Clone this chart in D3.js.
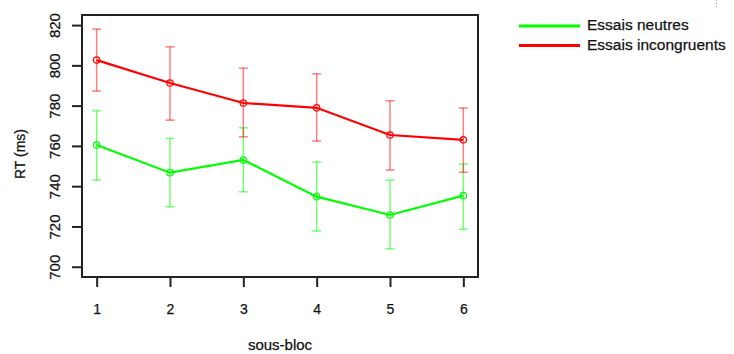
<!DOCTYPE html>
<html>
<head>
<meta charset="utf-8">
<script src="https://cdn.jsdelivr.net/npm/d3@7"></script>
<style>
  body { margin: 0; background: #fff; }
  svg { font-family: "Liberation Sans", Arial, sans-serif; }
  svg text { stroke: #111; stroke-width: 0.25px; }
</style>
</head>
<body>
<svg id="chart" width="734" height="354"></svg>
<script>
// sous-blocs 1..6
const blocks = [1, 2, 3, 4, 5, 6];

// Essais neutres
const neutralMean = [760.4, 746.7, 753.0, 734.8, 725.7, 735.3];
const neutralHigh = [777.4, 763.7, 769.0, 752.0, 743.0, 751.0];
const neutralLow  = [743.0, 729.8, 737.2, 717.7, 708.9, 718.6];

// Essais incongruents
const incongMean = [802.6, 791.2, 781.3, 778.9, 765.4, 763.0];
const incongHigh = [818.0, 809.2, 798.6, 795.8, 782.4, 778.8];
const incongLow  = [787.2, 772.8, 764.5, 762.4, 748.0, 746.9];

const yTicks = [700, 720, 740, 760, 780, 800, 820];
const legendLabels = ["Essais neutres", "Essais incongruents"];

const series = [
  { name: legendLabels[0], mean: neutralMean, hi: neutralHigh, lo: neutralLow, line: "#00ff00", bar: "rgba(0,255,0,0.55)" },
  { name: legendLabels[1], mean: incongMean, hi: incongHigh, lo: incongLow, line: "#ff0000", bar: "rgba(255,0,0,0.5)" }
];

const svg = d3.select("#chart");
const plot = { left: 82, top: 15, right: 478, bottom: 277 };

const x = d3.scaleLinear().domain([0.8, 6.2]).range([plot.left, plot.right]);
const y = d3.scaleLinear().domain([694.9, 825]).range([plot.bottom, plot.top]);

// y axis, labels rotated like R's default las=0
const yAxis = svg.append("g")
  .attr("transform", "translate(" + plot.left + ",0)")
  .call(d3.axisLeft(y).tickValues(yTicks).tickSize(10).tickSizeOuter(0));
yAxis.select(".domain").remove();
yAxis.selectAll("line").attr("stroke", "#222").attr("stroke-width", 2);
yAxis.selectAll("text")
  .attr("font-size", 15).attr("fill", "#111")
  .attr("text-anchor", "middle")
  .attr("transform", "rotate(-90)")
  .attr("x", 0).attr("y", -22).attr("dy", 0);

// x axis
const xAxis = svg.append("g")
  .attr("transform", "translate(0," + plot.bottom + ")")
  .call(d3.axisBottom(x).tickValues(blocks).tickFormat(d3.format("d")).tickSize(10).tickSizeOuter(0));
xAxis.select(".domain").remove();
xAxis.selectAll("line").attr("stroke", "#222").attr("stroke-width", 2);
xAxis.selectAll("text").attr("font-size", 14).attr("fill", "#111").attr("y", 37).attr("dy", 0);

// box
svg.append("rect")
  .attr("x", plot.left).attr("y", plot.top)
  .attr("width", plot.right - plot.left).attr("height", plot.bottom - plot.top)
  .attr("fill", "none").attr("stroke", "#222").attr("stroke-width", 2);

// axis titles
svg.append("text")
  .attr("transform", "translate(25," + ((plot.top + plot.bottom) / 2 + 8) + ") rotate(-90)")
  .attr("text-anchor", "middle").attr("font-size", 14).attr("fill", "#111")
  .text("RT (ms)");
svg.append("text")
  .attr("x", 280).attr("y", 350)
  .attr("text-anchor", "middle").attr("font-size", 15).attr("fill", "#111")
  .text("sous-bloc");

const line = d3.line().x((d) => x(d[0])).y((d) => y(d[1]));

series.forEach((s) => {
  const g = svg.append("g");
  // error bars
  blocks.forEach((b, i) => {
    g.append("line")
      .attr("x1", x(b)).attr("x2", x(b))
      .attr("y1", y(s.lo[i])).attr("y2", y(s.hi[i]))
      .attr("stroke", s.bar).attr("stroke-width", 1.5);
    [s.lo[i], s.hi[i]].forEach((v) => {
      g.append("line")
        .attr("x1", x(b) - 4.5).attr("x2", x(b) + 4.5)
        .attr("y1", y(v)).attr("y2", y(v))
        .attr("stroke", s.bar).attr("stroke-width", 1.5);
    });
  });
  g.append("path")
    .datum(blocks.map((b, i) => [b, s.mean[i]]))
    .attr("d", line)
    .attr("fill", "none").attr("stroke", s.line).attr("stroke-width", 2.2);
  g.selectAll("circle")
    .data(blocks.map((b, i) => [b, s.mean[i]]))
    .enter().append("circle")
    .attr("cx", (d) => x(d[0])).attr("cy", (d) => y(d[1])).attr("r", 3.2)
    .attr("fill", "none").attr("stroke", s.line).attr("stroke-width", 1.2);
});

// legend
const legend = svg.append("g").attr("transform", "translate(519,26)");
const items = legend.selectAll("g").data(series).enter().append("g")
  .attr("transform", (d, i) => "translate(0," + i * 19.5 + ")");
items.append("line")
  .attr("x1", 0).attr("x2", 61).attr("y1", 0).attr("y2", 0)
  .attr("stroke", (d) => d.line).attr("stroke-width", 3);
items.append("text")
  .attr("x", 68).attr("y", 4)
  .attr("font-size", 15.5).attr("fill", "#111")
  .text((d) => d.name);

// small grey mark at top right
svg.append("line")
  .attr("x1", 716.5).attr("x2", 716.5).attr("y1", 0).attr("y2", 7)
  .attr("stroke", "#999").attr("stroke-width", 1).attr("stroke-dasharray", "1,2");
</script>
</body>
</html>
